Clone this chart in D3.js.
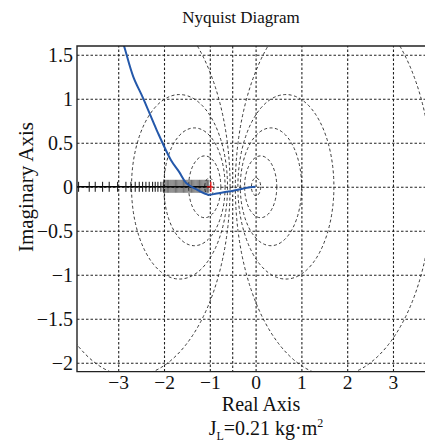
<!DOCTYPE html>
<html>
<head>
<meta charset="utf-8">
<script src="https://cdn.jsdelivr.net/npm/d3@7"></script>
<style>
  body { margin: 0; background: #fff; }
  svg text { font-family: "Liberation Serif", "Times New Roman", serif; fill: #111; }
</style>
</head>
<body>
<svg id="chart" width="425" height="446"></svg>
<script>
// Nyquist diagram with M-circle grid, J_L = 0.21 kg·m^2

const X_TICKS = [-3, -2, -1, 0, 1, 2, 3];
const Y_TICKS = [1.5, 1, 0.5, 0, -0.5, -1, -1.5, -2];

// constant closed-loop magnitude circles (dB); 0 dB is the line Re = -0.5
const M_DB = [-20, -10, -6, -4, -2, 2, 4, 6, 10, 20];
const M_ZERO_RE = -0.5;

// open-loop frequency response
const CURVE_RE = [-2.93, -2.85, -2.67, -2.45, -2.16, -1.85, -1.67, -1.51, -1.29, -1.03, -0.85, -0.49, -0.12, 0];
const CURVE_IM = [1.70, 1.56, 1.25, 1.00, 0.645, 0.305, 0.17, 0.04, -0.03, -0.09, -0.075, -0.045, -0.005, 0];

// '+' markers on the negative real axis
const CROSS_RE = [-3.865, -3.633, -3.502, -3.341, -3.197, -3.013, -2.832, -2.723, -2.629, -2.541,
  -2.467, -2.395, -2.323, -2.249, -2.192, -2.133, -2.068, -2.017];
const BAND_RE = [-2.000, -1.975, -1.950, -1.925, -1.900, -1.875, -1.850, -1.825, -1.800, -1.775,
  -1.750, -1.725, -1.700, -1.675, -1.650, -1.625, -1.600, -1.575, -1.550, -1.525,
  -1.500, -1.475, -1.450, -1.425, -1.400, -1.375, -1.350, -1.325, -1.300, -1.275,
  -1.250, -1.225, -1.200, -1.175, -1.150, -1.125, -1.100, -1.075, -1.050, -1.025];
const CRITICAL = [-1, 0];

const margin = { top: 46, left: 77 };
const w = 357.2, h = 325.6;

const svg = d3.select("#chart");

const x = d3.scaleLinear().domain([-3.9, 3.9]).range([0, w]);
const y = d3.scaleLinear().domain([-2.1, 1.6]).range([h, 0]);

const g = svg.append("g")
  .attr("transform", `translate(${margin.left},${margin.top})`);

svg.append("defs").append("clipPath").attr("id", "plot-clip")
  .append("rect").attr("width", w).attr("height", h);

// Grid
g.append("g")
  .attr("transform", `translate(0,${h})`)
  .call(d3.axisBottom(x).tickValues(X_TICKS).tickSize(-h).tickFormat(""))
  .call(a => a.select(".domain").remove())
  .call(a => a.selectAll(".tick line")
    .attr("stroke", "#222").attr("stroke-width", 1.1).attr("stroke-dasharray", "2.5,2"));

g.append("g")
  .call(d3.axisLeft(y).tickValues(Y_TICKS).tickSize(-w).tickFormat(""))
  .call(a => a.select(".domain").remove())
  .call(a => a.selectAll(".tick line")
    .attr("stroke", "#222").attr("stroke-width", 1.1).attr("stroke-dasharray", "2.5,2"));

// M-circles
const plot = g.append("g").attr("clip-path", "url(#plot-clip)");
const kx = x(1) - x(0), ky = y(0) - y(1);

plot.selectAll(".mcircle")
  .data(M_DB)
  .join("ellipse")
  .attr("class", "mcircle")
  .each(function(db) {
    const m2 = Math.pow(10, db / 10), m = Math.sqrt(m2);
    const c = -m2 / (m2 - 1), r = Math.abs(m / (m2 - 1));
    d3.select(this)
      .attr("cx", x(c)).attr("cy", y(0))
      .attr("rx", r * kx).attr("ry", r * ky);
  })
  .attr("fill", "none")
  .attr("stroke", "#222")
  .attr("stroke-width", 0.9)
  .attr("stroke-dasharray", "3,2.5");

plot.append("line")
  .attr("x1", x(M_ZERO_RE)).attr("x2", x(M_ZERO_RE))
  .attr("y1", 0).attr("y2", h)
  .attr("stroke", "#222").attr("stroke-width", 1.1).attr("stroke-dasharray", "2.5,2");

// Real-axis markers
plot.append("line")
  .attr("x1", x(-3.9)).attr("x2", x(CRITICAL[0]))
  .attr("y1", y(0)).attr("y2", y(0))
  .attr("stroke", "#000").attr("stroke-width", 1.6);

plot.selectAll(".band")
  .data(BAND_RE)
  .join("line")
  .attr("class", "band")
  .attr("x1", d => x(d)).attr("x2", d => x(d))
  .attr("y1", y(0) - 7).attr("y2", y(0) + 6)
  .attr("stroke", "#111").attr("stroke-width", 0.8).attr("opacity", 0.75);

plot.selectAll(".cross")
  .data(CROSS_RE)
  .join("line")
  .attr("class", "cross")
  .attr("x1", d => x(d)).attr("x2", d => x(d))
  .attr("y1", y(0) - 5).attr("y2", y(0) + 5)
  .attr("stroke", "#111").attr("stroke-width", 1);

// critical point
plot.append("path")
  .attr("d", `M${x(CRITICAL[0]) - 3},${y(CRITICAL[1])}h6M${x(CRITICAL[0]) + 1},${y(CRITICAL[1]) - 5}v10`)
  .attr("stroke", "#e01010").attr("stroke-width", 1.3).attr("fill", "none");

// Nyquist curve
const line = d3.line()
  .x((d, i) => x(CURVE_RE[i]))
  .y((d, i) => y(CURVE_IM[i]))
  .curve(d3.curveCatmullRom.alpha(0.5));

plot.append("path")
  .datum(CURVE_RE)
  .attr("d", line)
  .attr("fill", "none")
  .attr("stroke", "#2458aa")
  .attr("stroke-width", 2);

// Frame
g.append("path")
  .attr("d", `M${w},0H0V${h}H${w}`)
  .attr("fill", "none")
  .attr("stroke", "#222")
  .attr("stroke-width", 1.4);

// Tick labels
g.append("g")
  .attr("transform", `translate(0,${h})`)
  .call(d3.axisBottom(x).tickValues(X_TICKS).tickSize(0).tickPadding(4).tickFormat(d3.format("~g")))
  .call(a => a.select(".domain").remove())
  .call(a => a.selectAll("text").attr("font-size", 19.5).attr("fill", "#111")
    .style("font-family", '"Liberation Serif", serif'));

g.append("g")
  .call(d3.axisLeft(y).tickValues(Y_TICKS).tickSize(0).tickPadding(4).tickFormat(d3.format("~g")))
  .call(a => a.select(".domain").remove())
  .call(a => a.selectAll("text").attr("font-size", 20).attr("fill", "#111")
    .style("font-family", '"Liberation Serif", serif'));

// Titles
svg.append("text")
  .attr("x", 241).attr("y", 23)
  .attr("text-anchor", "middle")
  .attr("font-size", 17)
  .text("Nyquist Diagram");

svg.append("text")
  .attr("x", 261).attr("y", 411)
  .attr("text-anchor", "middle")
  .attr("font-size", 20)
  .text("Real Axis");

svg.append("text")
  .attr("transform", "translate(33,187) rotate(-90)")
  .attr("text-anchor", "middle")
  .attr("font-size", 21)
  .text("Imaginary Axis");

const note = svg.append("text")
  .attr("x", 266).attr("y", 435)
  .attr("text-anchor", "middle")
  .attr("font-size", 20);
note.append("tspan").text("J");
note.append("tspan").attr("font-size", 12).attr("dy", 5).text("L");
note.append("tspan").attr("dy", -5).text("=0.21 kg·m");
note.append("tspan").attr("font-size", 12).attr("dy", -8).text("2");
</script>
</body>
</html>
